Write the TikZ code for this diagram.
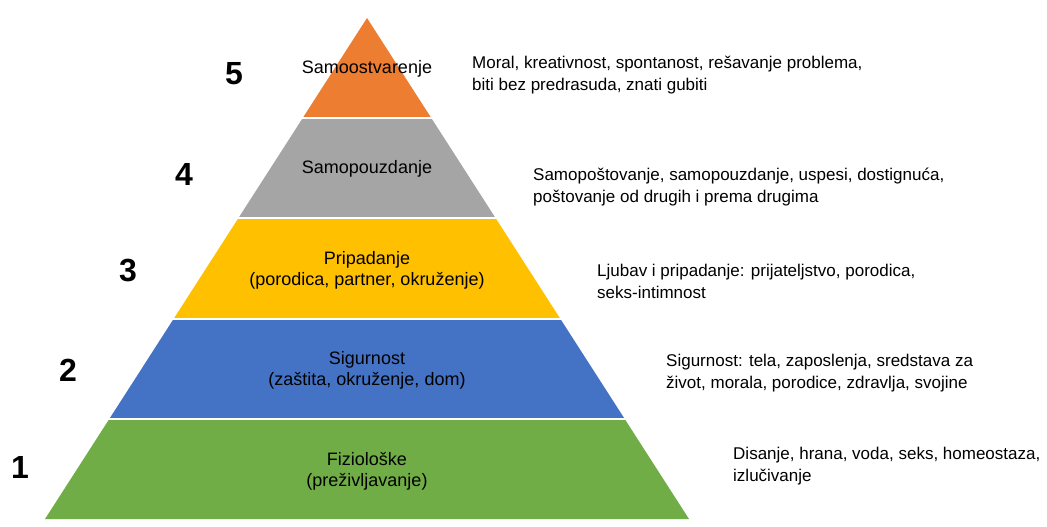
\documentclass[tikz,border=0pt]{standalone}
\usepackage{fontspec}
\setmainfont{Liberation Sans}
\usetikzlibrary{calc}
\definecolor{orange}{HTML}{ED7D31}
\definecolor{grayfill}{HTML}{A5A5A5}
\definecolor{yellow}{HTML}{FFC000}
\definecolor{blue}{HTML}{4472C4}
\definecolor{green}{HTML}{70AD47}
\tikzset{
  level/.style={align=center, inner sep=0pt, font=\fontsize{18}{21}\selectfont},
  num/.style={inner sep=0pt, font=\fontsize{32}{32}\selectfont\bfseries},
  desc/.style={anchor=west, align=left, inner sep=0pt, font=\fontsize{17}{22}\selectfont},
  gap/.style={draw=white, line width=2pt}
}
\begin{document}
\begin{tikzpicture}[x=1pt,y=-1pt]
  \useasboundingbox (0,0) rectangle (1047,527);
  \coordinate (top) at (367,18);
  \coordinate (bl) at (45,519);
  \coordinate (br) at (689,519);

  % layers, top to bottom
  \foreach \a/\b/\c in {0/0.2/orange, 0.2/0.4/grayfill, 0.4/0.6/yellow, 0.6/0.8/blue, 0.8/1/green}
    \fill[\c] ($(top)!\a!(bl)$) -- ($(top)!\b!(bl)$) -- ($(top)!\b!(br)$) -- ($(top)!\a!(br)$) -- cycle;
  \foreach \b in {0.2,0.4,0.6,0.8}
    \draw[gap] ($(top)!\b!(bl)+(-2,0)$) -- ($(top)!\b!(br)+(2,0)$);

  % labels inside the pyramid
  \node[level] (l5) at (367,69) {Samoostvarenje};
  \node[level] (l4) at (367,169) {Samopouzdanje};
  \node[level] (l3) at (367,270) {Pripadanje\\(porodica, partner, okruženje)};
  \node[level] (l2) at (367,370) {Sigurnost\\(zaštita, okruženje, dom)};
  \node[level] (l1) at (367,471) {Fiziološke\\(preživljavanje)};

  % level numbers
  \node[num] (n5) at (234,74) {5};
  \node[num] (n4) at (184,174) {4};
  \node[num] (n3) at (128,271) {3};
  \node[num] (n2) at (68,370) {2};
  \node[num] (n1) at (20,467) {1};

  % descriptions
  \node[desc] (d5) at (472,75) {Moral, kreativnost, spontanost, rešavanje problema,\\biti bez predrasuda, znati gubiti};
  \node[desc] (d4) at (533,187) {Samopoštovanje, samopouzdanje, uspesi, dostignuća,\\poštovanje od drugih i prema drugima};
  \node[desc] (d3) at (597,281) {Ljubav i pripadanje: prijateljstvo, porodica,\\seks-intimnost};
  \node[desc] (d2) at (666,373) {Sigurnost: tela, zaposlenja, sredstava za\\život, morala, porodice, zdravlja, svojine};
  \node[desc] (d1) at (733,466) {Disanje, hrana, voda, seks, homeostaza,\\izlučivanje};
\end{tikzpicture}
\end{document}
